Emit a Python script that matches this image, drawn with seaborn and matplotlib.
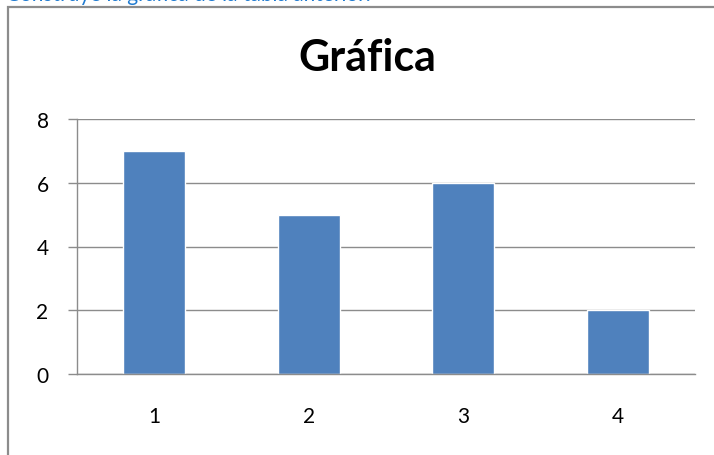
import matplotlib
matplotlib.use('Agg')
import matplotlib.pyplot as plt
import matplotlib.patches as patches
import seaborn as sns
import pandas as pd

# data
categorias = ['1', '2', '3', '4']
valores = [7, 5, 6, 2]
y_ticks = [0, 2, 4, 6, 8]

df = pd.DataFrame({'cat': categorias, 'valor': valores})

sns.set_style('white')
plt.rcParams['font.family'] = ['Lato', 'DejaVu Sans']

W, H = 714, 456
fig = plt.figure(figsize=(W / 100, H / 100), dpi=100)

# chart border (goes off the right and bottom edges)
fig.patches.append(patches.Rectangle((8 / W, -0.05), 1.2, 1 - 8 / H + 0.05,
                                     transform=fig.transFigure, fill=False,
                                     edgecolor='#8c8c8c', linewidth=1.6))

# clipped instruction line at the very top (cut off in the source too)
fig.text(6 / W, 1 - 1.0 / H, 'Construye la gráfica de la tabla anterior.',
         color='#1f7ad0', fontsize=15, va='baseline', ha='left')

ax = fig.add_axes([77 / W, 1 - 375 / H, (695 - 77) / W, (375 - 120) / H])
sns.barplot(data=df, x='cat', y='valor', color='#4f81bd', width=0.4,
            saturation=1, ax=ax)

ax.set_ylim(0, 8)
ax.set_xlim(-0.5, 3.5)
ax.set_yticks(y_ticks)
ax.set_xlabel('')
ax.set_ylabel('')
ax.yaxis.grid(True, color='#8c8c8c', linewidth=1.0)
ax.set_axisbelow(True)

for s in ['top', 'right']:
    ax.spines[s].set_visible(False)
for s in ['left', 'bottom']:
    ax.spines[s].set_color('#8c8c8c')
    ax.spines[s].set_linewidth(1.0)

ax.set_xticks([-0.5, 0.5, 1.5, 2.5, 3.5], minor=True)
ax.tick_params(axis='x', which='minor', length=6, width=1, color='#8c8c8c',
               direction='out')
ax.tick_params(axis='x', which='major', length=0, pad=23, labelsize=15,
               labelcolor='black')
ax.tick_params(axis='y', length=6.5, width=1, color='#8c8c8c', pad=14,
               labelsize=15, left=True, labelcolor='black')

fig.text(367 / W, 1 - 58 / H, 'Gráfica', ha='center', va='center',
         fontsize=31, fontweight='bold', color='black')

fig.savefig('out.png', dpi=100)
